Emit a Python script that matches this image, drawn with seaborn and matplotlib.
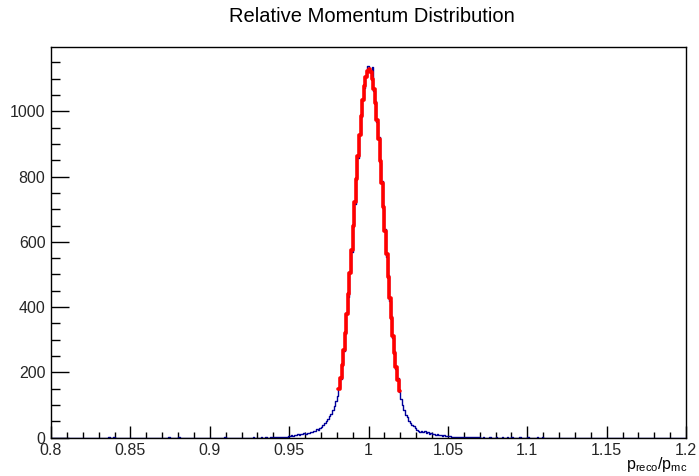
import numpy as np
import pandas as pd
import matplotlib
matplotlib.use("Agg")
import matplotlib.pyplot as plt
import seaborn as sns
from matplotlib.ticker import MultipleLocator

sns.set_theme(style="white")
plt.rcParams['font.family'] = ['Liberation Sans', 'DejaVu Sans']
plt.rcParams['mathtext.fontset'] = 'custom'
plt.rcParams['mathtext.rm'] = 'Liberation Sans'

# ---- data ----
x_min, x_max, n_bins = 0.8, 1.2, 400

# core histogram counts, bins of 0.001 starting at 0.940
core_start = 0.940
core_counts = [
    2, 3, 2, 1, 3, 2, 2, 3, 2, 4,
    6, 8, 5, 9, 7, 10, 8, 12, 10, 14,
    12, 15, 13, 18, 16, 22, 19, 26, 24, 30,
    33, 38, 45, 51, 58, 66, 74, 84, 97, 112,
    128, 155, 180, 228, 266, 318, 384, 432, 512, 570,
    655, 716, 800, 858, 930, 982, 1040, 1072, 1108, 1138,
    1126, 1124, 1137, 1062, 1030, 968, 920, 842, 785, 700,
    640, 555, 498, 420, 372, 305, 266, 210, 182, 140,
    118, 100, 84, 70, 62, 52, 46, 40, 36, 30,
    25, 22, 18, 22, 16, 19, 14, 16, 12, 14,
    10, 11, 8, 10, 7, 8, 6, 7, 5, 6,
    4, 5, 3, 2, 3, 2, 2, 3, 2, 1,
    2, 1, 2, 1, 2, 1, 2, 1, 1, 2,
]
# isolated entries in the tails
tail_x = [0.836, 0.839, 0.874, 0.880, 0.909, 0.927, 0.932, 0.935, 0.938,
          1.072, 1.076, 1.080, 1.084, 1.087, 1.090, 1.095, 1.100, 1.106, 1.109]
tail_counts = [1, 1, 1, 1, 1, 1, 2, 1, 2,
               1, 2, 1, 1, 2, 1, 1, 1, 1, 1]

# gaussian fit drawn over bins 0.981 .. 1.019
fit_start = 0.981
fit_values = [
    150, 184, 224, 270, 321, 378, 439, 506, 576, 648,
    722, 793, 862, 926, 985, 1035, 1076, 1105, 1123, 1128,
    1120, 1100, 1068, 1026, 974, 914, 848, 779, 707, 633,
    562, 492, 427, 366, 311, 260, 216, 177, 143,
]

# ---- build histogram table ----
width = (x_max - x_min) / n_bins
edges = x_min + width * np.arange(n_bins + 1)
centers = edges[:-1] + width / 2
counts = np.zeros(n_bins)
i0 = int(round((core_start - x_min) / width))
counts[i0:i0 + len(core_counts)] = core_counts
for tx, tc in zip(tail_x, tail_counts):
    counts[int(round((tx - x_min) / width))] += tc
hist_df = pd.DataFrame({"x": centers, "n": counts})

j0 = int(round((fit_start - x_min) / width))
fit_edges = edges[j0:j0 + len(fit_values) + 1]
fit_df = pd.DataFrame({"x": fit_edges[:-1] + width / 2, "n": np.array(fit_values, float)})

# ---- figure ----
W, H = 699, 476
fig = plt.figure(figsize=(W / 100, H / 100), dpi=100)
ax = fig.add_axes([51 / W, 1 - 437.7 / H, (686 - 51) / W, (437.7 - 47.3) / H])

sns.histplot(data=hist_df, x="x", weights="n", bins=[float(e) for e in edges],
             element="step", fill=False, color="#000099", linewidth=1.0, ax=ax)
sns.histplot(data=fit_df, x="x", weights="n", bins=[float(e) for e in fit_edges],
             element="step", fill=False, color="#ff0000", linewidth=2.6, ax=ax)

ax.set_xlim(x_min, x_max)
ax.set_ylim(0, 1196)
ax.set_xlabel("")
ax.set_ylabel("")

ax.xaxis.set_minor_locator(MultipleLocator(0.01))
ax.yaxis.set_major_locator(MultipleLocator(200))
ax.yaxis.set_minor_locator(MultipleLocator(50))
xt = np.round(np.arange(0.8, 1.2001, 0.05), 2)
ax.set_xticks(xt)
ax.set_xticklabels([f"{v:g}" for v in xt])

ax.tick_params(axis="x", which="major", direction="in", length=8.6, width=1,
               color="black", labelsize=11.5, pad=3.5, bottom=True, top=False)
ax.tick_params(axis="x", which="minor", direction="in", length=4.3, width=1,
               color="black", bottom=True, top=False)
ax.tick_params(axis="y", which="major", direction="in", length=13, width=1,
               color="black", labelsize=11.5, pad=4, left=True, right=False)
ax.tick_params(axis="y", which="minor", direction="in", length=6.5, width=1,
               color="black", left=True, right=False)
for s in ax.spines.values():
    s.set_color("black")
    s.set_linewidth(1.0)

fig.text(372 / W, 1 - 17 / H, "Relative Momentum Distribution",
         ha="center", va="center", fontsize=14.5, color="black")
fig.text(687 / W, 1 - 469.5 / H, r"$\mathregular{p_{reco}/p_{mc}}$",
         ha="right", va="baseline", fontsize=11.5, color="black")

fig.savefig("out.png", dpi=100)
